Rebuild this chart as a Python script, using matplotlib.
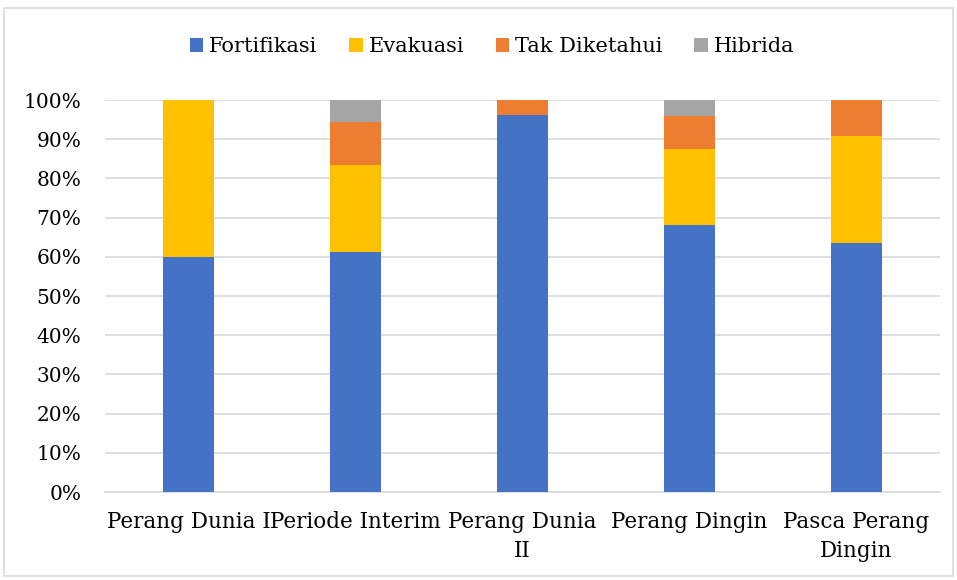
import matplotlib.pyplot as plt
import matplotlib.patches as patches
import numpy as np

categories = ['Perang Dunia I', 'Periode Interim', 'Perang Dunia\nII',
              'Perang Dingin', 'Pasca Perang\nDingin']
fortifikasi = [60.0, 61.1, 96.2, 68.0, 63.6]
evakuasi = [40.0, 22.2, 0.0, 19.5, 27.3]
tak_diketahui = [0.0, 11.1, 3.8, 8.5, 9.1]
hibrida = [0.0, 5.6, 0.0, 4.0, 0.0]

series = [('Fortifikasi', fortifikasi, '#4472C4'),
          ('Evakuasi', evakuasi, '#FFC000'),
          ('Tak Diketahui', tak_diketahui, '#ED7D31'),
          ('Hibrida', hibrida, '#A5A5A5')]

plt.rcParams['font.family'] = ['DejaVu Serif']

fig = plt.figure(figsize=(9.57, 5.8), dpi=100)
ax = fig.add_axes([105 / 957, 1 - 492 / 580, 835 / 957, 392 / 580])

x = np.arange(len(categories))
bottom = np.zeros(len(categories))
for name, vals, color in series:
    ax.bar(x, vals, width=0.31, bottom=bottom, color=color, label=name, zorder=3)
    bottom += np.array(vals)

ax.set_xlim(-0.5, len(categories) - 0.5)
ax.set_ylim(0, 100)
ax.set_yticks(np.arange(0, 101, 10))
ax.set_yticklabels([f'{v}%' for v in range(0, 101, 10)], fontsize=14.5)
ax.set_xticks(x)
ax.set_xticklabels(categories, fontsize=15.5, linespacing=1.4)
ax.tick_params(axis='y', length=0, pad=17)
ax.tick_params(axis='x', length=0, pad=14)
ax.grid(axis='y', color='#D9D9D9', linewidth=1.2, zorder=0)
for s in ['top', 'right', 'left']:
    ax.spines[s].set_visible(False)
ax.spines['bottom'].set_color('#D9D9D9')
ax.spines['bottom'].set_linewidth(1.2)

ax.legend(loc='center', bbox_to_anchor=(492 / 957, 1 - 47 / 580),
          bbox_transform=fig.transFigure, ncol=4, frameon=False, fontsize=15,
          handlelength=0.65, handleheight=0.65, handletextpad=0.3, columnspacing=1.5)

fig.patches.append(patches.Rectangle((4 / 957, 4 / 580), 949 / 957, 568 / 580,
                                     transform=fig.transFigure, fill=False,
                                     edgecolor='#D9D9D9', linewidth=1.2))

fig.savefig('out.png', dpi=100)
